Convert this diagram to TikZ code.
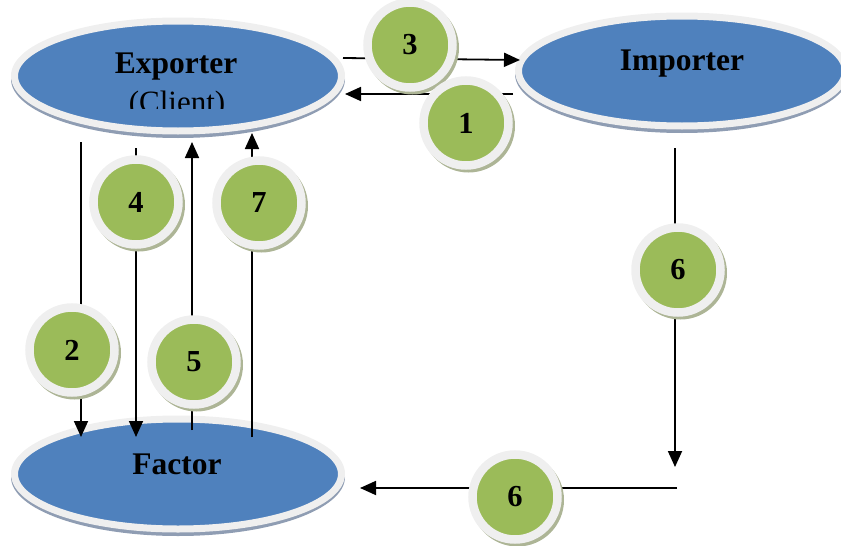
\documentclass[tikz,border=0pt]{standalone}
\usepackage{fontspec}
\setmainfont{Liberation Serif}
\usetikzlibrary{arrows.meta,shapes.geometric}
\definecolor{blueC}{HTML}{4F81BD}
\definecolor{ringC}{HTML}{EFEFEF}
\definecolor{shadB}{HTML}{8F9DB3}
\definecolor{greenC}{HTML}{9BBB59}
\definecolor{shadG}{HTML}{ADB596}
\newcommand\mybadge[4]{%
  \fill[shadG] (#2+2.5,#3+3) circle[radius=46.5pt];
  \node[badge] (#1) at (#2,#3) {#4};}
\begin{document}
\begin{tikzpicture}[x=1pt,y=-1pt,
  blob/.style={ellipse, fill=blueC, draw=ringC, line width=7pt,
    minimum width=327pt, minimum height=110pt, inner sep=0pt},
  badge/.style={circle, fill=greenC, draw=ringC, line width=8.5pt,
    minimum size=85pt, inner sep=0pt, font=\fontsize{30.5}{30.5}\selectfont\bfseries},
  conn/.style={line width=1.8pt, -{Triangle[length=16pt,width=14pt]}},
  title/.style={font=\fontsize{31.5}{31.5}\selectfont\bfseries, anchor=base, inner sep=0pt},
  subtitle/.style={font=\fontsize{31}{31}\selectfont, anchor=base, inner sep=0pt}]
\useasboundingbox (0,0) rectangle (841,546);
% ellipses with shadows
\fill[shadB] (178,79) ellipse [x radius=167pt, y radius=59pt];
\node[blob] (exp) at (178,76) {};
\fill[shadB] (682,74) ellipse [x radius=167pt, y radius=59pt];
\node[blob] (imp) at (682,71) {};
\fill[shadB] (178,477) ellipse [x radius=167pt, y radius=59pt];
\node[blob] (fac) at (178,474) {};
\node[title] (expt) at (176,73) {Exporter};
\begin{scope}
  \clip (0,0) rectangle (841,108);
  \node[subtitle] (expc) at (177,112) {(Client)};
\end{scope}
\node[title] (impt) at (682,70) {Importer};
\node[title] (fact) at (177,474) {Factor};
% connector end points
\coordinate (c3s) at (343,58);  \coordinate (c3e) at (520,60);
\coordinate (c1s) at (513,94);  \coordinate (c1e) at (345,94);
\coordinate (c2s) at (81,142);  \coordinate (c2e) at (81,437);
\coordinate (c4s) at (136,148); \coordinate (c4e) at (136,437);
\coordinate (c5s) at (192,430); \coordinate (c5e) at (192,142);
\coordinate (c7s) at (252,437); \coordinate (c7e) at (252,133);
\coordinate (c6as) at (675,148); \coordinate (c6ae) at (675,467);
\coordinate (c6bs) at (677,488); \coordinate (c6be) at (360,488);
\draw[conn] (c3s) -- (c3e);
\draw[conn] (c1s) -- (c1e);
\draw[conn] (c2s) -- (c2e);
\draw[conn] (c4s) -- (c4e);
\draw[conn] (c5s) -- (c5e);
\draw[conn] (c7s) -- (c7e);
\draw[conn] (c6as) -- (c6ae);
\draw[conn] (c6bs) -- (c6be);
% numbered badges
\mybadge{b3}{410}{45}{3}
\mybadge{b1}{466}{123}{1}
\mybadge{b4}{136}{202}{4}
\mybadge{b7}{259}{203}{7}
\mybadge{b2}{72}{350}{2}
\mybadge{b5}{194}{362}{5}
\mybadge{b6a}{678}{270}{6}
\mybadge{b6b}{515}{497}{6}
\end{tikzpicture}
\end{document}
